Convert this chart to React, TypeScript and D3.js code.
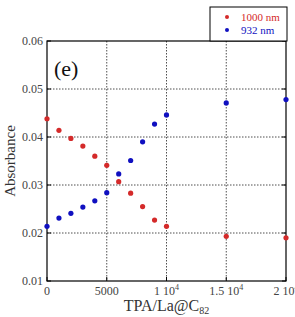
import React from "react";
import * as d3 from "d3";

const ratios = [0, 1000, 2000, 3000, 4000, 5000, 6000, 7000, 8000, 9000, 10000, 15000, 20000];
const abs1000 = [0.0438, 0.0414, 0.0397, 0.0381, 0.036, 0.0341, 0.0307, 0.0283, 0.0255, 0.0227, 0.0214, 0.0193, 0.019];
const abs932 = [0.0214, 0.0231, 0.0241, 0.0254, 0.0267, 0.0284, 0.0323, 0.0351, 0.039, 0.0427, 0.0446, 0.0471, 0.0478];
const xTicks = [0, 5000, 10000, 15000, 20000];
const xTickLabels = ["0", "5000", "1 10", "1.5 10", "2 10"];
const xTickSups = ["", "", "4", "4", "4"];
const yTicks = [0.01, 0.02, 0.03, 0.04, 0.05, 0.06];
const seriesNames = ["1000 nm", "932 nm"];
const seriesColors = ["#d42a2a", "#1010c0"];

export default function App() {
  const W = 295, H = 317;
  const left = 47, right = 286, top = 41, bottom = 281;
  const x = d3.scaleLinear().domain([0, 20000]).range([left, right]);
  const y = d3.scaleLinear().domain([0.01, 0.06]).range([bottom, top]);
  const font = "'Liberation Serif', 'Times New Roman', serif";
  const series = [abs1000, abs932];
  return (
    <svg width={W} height={H} style={{ position: "absolute", left: 0, top: 0 }} fontFamily={font}>
      <rect x={0} y={0} width={W} height={H} fill="#fff" />
      {xTicks.slice(1, -1).map((t) => (
        <line key={"gx" + t} x1={x(t)} x2={x(t)} y1={top} y2={bottom} stroke="#222" strokeWidth={0.8} strokeDasharray="1.5,1.5" />
      ))}
      {yTicks.slice(1, -1).map((t) => (
        <line key={"gy" + t} x1={left} x2={right} y1={y(t)} y2={y(t)} stroke="#222" strokeWidth={0.8} strokeDasharray="1.5,1.5" />
      ))}
      {yTicks.map((t) => (
        <g key={"ty" + t}>
          <line x1={left} x2={left + 4} y1={y(t)} y2={y(t)} stroke="#000" />
          <line x1={right - 4} x2={right} y1={y(t)} y2={y(t)} stroke="#000" />
          <text x={left - 4} y={y(t) + 4} textAnchor="end" fontSize={12} fill="#444">{t.toFixed(2)}</text>
        </g>
      ))}
      {xTicks.map((t, i) => (
        <g key={"tx" + t}>
          <line x1={x(t)} x2={x(t)} y1={bottom} y2={bottom - 4} stroke="#000" />
          <text x={x(t)} y={bottom + 14} textAnchor="middle" fontSize={12} fill="#444">
            {xTickLabels[i]}
            {xTickSups[i] ? <tspan dy={-5} fontSize={8}>{xTickSups[i]}</tspan> : null}
          </text>
        </g>
      ))}
      <rect x={left} y={top} width={right - left} height={bottom - top} fill="none" stroke="#000" strokeWidth={1.2} />
      {series.map((s, si) =>
        s.map((v, i) => (
          <circle key={si + "-" + i} cx={x(ratios[i])} cy={y(v)} r={2.6} fill={seriesColors[si]} />
        ))
      )}
      <text x={54} y={76} fontSize={22} fill="#111">(e)</text>
      <rect x={210} y={7} width={77} height={34} fill="#fff" stroke="#000" strokeWidth={1} />
      {seriesNames.map((n, i) => (
        <g key={n}>
          <circle cx={227} cy={17 + i * 13} r={2} fill={seriesColors[i]} />
          <text x={241} y={21 + i * 13} fontSize={11} fill={seriesColors[i]}>{n}</text>
        </g>
      ))}
      <text transform={`translate(15,${(top + bottom) / 2}) rotate(-90)`} textAnchor="middle" fontSize={15} fill="#333">Absorbance</text>
      <text x={(left + right) / 2} y={311} textAnchor="middle" fontSize={16} fill="#333">
        TPA/La@C<tspan dy={3} fontSize={10}>82</tspan>
      </text>
    </svg>
  );
}
